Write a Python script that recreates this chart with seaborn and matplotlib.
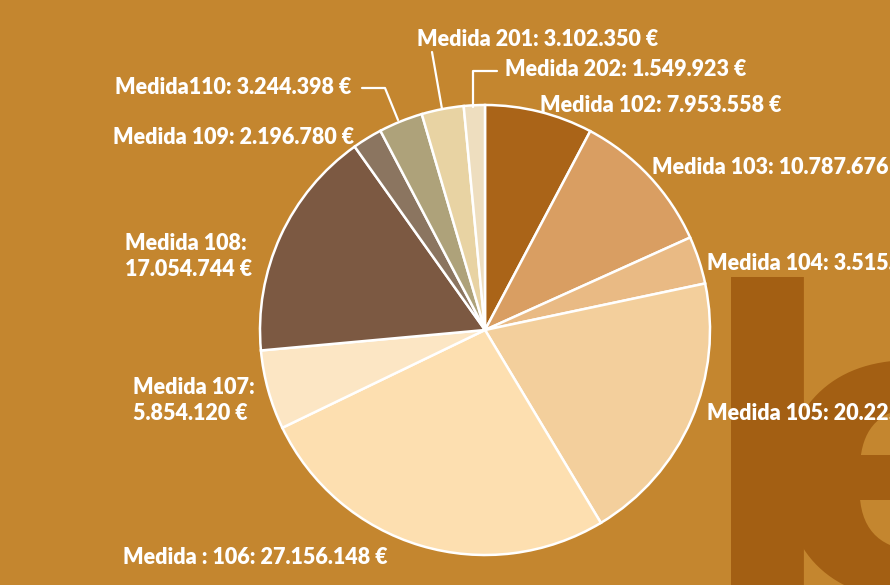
import matplotlib
matplotlib.use("Agg")
import matplotlib.pyplot as plt
import seaborn as sns
from matplotlib.lines import Line2D

sns.set_style("white")
plt.rcParams['font.family'] = ['Lato', 'DejaVu Sans']

categories = ["Medida 102", "Medida 103", "Medida 104", "Medida 105", "Medida : 106",
              "Medida 107", "Medida 108", "Medida 109", "Medida110", "Medida 201", "Medida 202"]
values = [7953558, 10787676, 3515000, 20225000, 27156148,
          5854120, 17054744, 2196780, 3244398, 3102350, 1549923]
colors = ["#AA6418", "#D99E62", "#E9BA84", "#F3CF9C", "#FDDFB0",
          "#FCE6C4", "#7C5942", "#8B7560", "#AEA27A", "#E8D3A3", "#EEDEBF"]

BG = "#C4862F"
W, H = 890, 585
fig = plt.figure(figsize=(W / 100, H / 100), dpi=100)
fig.patch.set_facecolor(BG)

def fx(x):
    return x / W

def fy(y):
    return 1 - y / H

# big background letters
fig.text(fx(696), fy(594), "l", fontsize=300, fontweight="bold", color="#A35F13",
         ha="left", va="baseline", family="DejaVu Sans", zorder=0)
fig.text(fx(767), fy(594), "e", fontsize=300, fontweight="bold", color="#A35F13",
         ha="left", va="baseline", family="DejaVu Sans", zorder=0)

cx, cy, r = 485, 330, 225
ax = fig.add_axes([fx(cx - r), fy(cy + r), 2 * r / W, 2 * r / H])
ax.set_facecolor("none")
palette = sns.color_palette(colors)
ax.pie(values, colors=palette, startangle=90, counterclock=False,
       wedgeprops=dict(edgecolor="white", linewidth=1.8))
ax.set_xlim(-1, 1)
ax.set_ylim(-1, 1)
ax.set_aspect("auto")
ax.axis("off")

def fmt(v):
    return f"{v:,}".replace(",", ".") + " €"

labels = [f"{c}: {fmt(v)}" for c, v in zip(categories, values)]

tk = dict(color="white", fontweight="heavy", fontsize=15.5, va="center", ha="left", zorder=5)
# single line labels (index, x, y)
single = [(9, 417, 39), (10, 505, 70), (0, 540, 106), (1, 652, 168), (2, 707, 263),
          (3, 707, 413), (4, 123, 557), (7, 113, 137), (8, 115, 88)]
for i, x, y in single:
    fig.text(fx(x), fy(y), labels[i], **tk)

# two-line labels
fig.text(fx(125), fy(243), f"{categories[6]}:", **tk)
fig.text(fx(125), fy(270), fmt(values[6]), **tk)
fig.text(fx(133), fy(388), f"{categories[5]}:", **tk)
fig.text(fx(133), fy(414), fmt(values[5]), **tk)

# leader lines
lk = dict(color="white", linewidth=1.6, transform=fig.transFigure)
for xs, ys in [([432, 442], [52, 109]),
               ([497, 473, 473], [71, 71, 107]),
               ([362, 385, 398], [88, 88, 120])]:
    fig.add_artist(Line2D([fx(x) for x in xs], [fy(y) for y in ys], **lk))

fig.savefig("out.png", dpi=100, facecolor=BG)
